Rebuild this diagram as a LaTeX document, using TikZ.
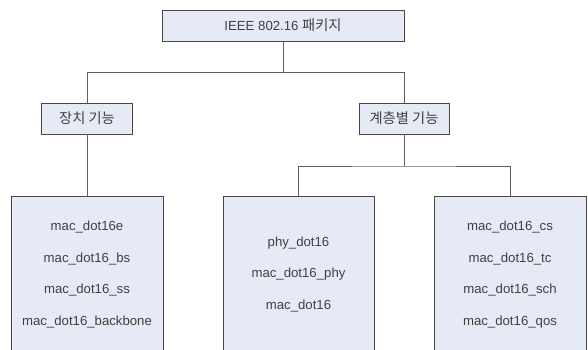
\documentclass[tikz,border=0pt]{standalone}
\usepackage{fontspec}
\setmainfont{Liberation Sans}
\newfontfamily\krfont[Scale=1.08]{Noto Sans CJK KR}
\usetikzlibrary{positioning}
\definecolor{boxfill}{RGB}{230,234,246}
\definecolor{boxline}{RGB}{70,70,70}
\definecolor{linkline}{RGB}{95,95,95}
\definecolor{textgray}{RGB}{64,64,64}

\tikzset{
	pkg/.style={draw=boxline,fill=boxfill,line width=0.9pt,text=textgray,
		font=\fontsize{13.2}{31.5}\selectfont,inner sep=0pt,align=center},
	link/.style={draw=linkline,line width=0.8pt},
}

\begin{document}
\begin{tikzpicture}[x=1pt,y=-1pt]
	\useasboundingbox (0,0) rectangle (588,349);
	\clip (0,0) rectangle (588,349);
	% package and the two groups
	\node[pkg,minimum width=242pt,minimum height=31pt] (pkgtop) at (283,25.5) {IEEE 802.16 {\krfont 패키지}};
	\node[pkg,minimum width=91pt,minimum height=31pt] (device) at (87,118.5) {\krfont 장치 기능};
	\node[pkg,minimum width=90pt,minimum height=31pt] (layer) at (404,118.5) {\krfont 계층별 기능};
	% module lists (bottom edge runs off the page)
	\node[pkg,minimum width=152pt,minimum height=156pt,anchor=north] (devlist) at (87,196)
		{mac\_dot16e\\mac\_dot16\_bs\\mac\_dot16\_ss\\mac\_dot16\_backbone};
	\node[pkg,minimum width=151pt,minimum height=156pt,anchor=north] (phylist) at (298.5,196)
		{phy\_dot16\\mac\_dot16\_phy\\mac\_dot16};
	\node[pkg,minimum width=152pt,minimum height=156pt,anchor=north] (maclist) at (510,196)
		{mac\_dot16\_cs\\mac\_dot16\_tc\\mac\_dot16\_sch\\mac\_dot16\_qos};
	% connectors
	\coordinate (topfork) at (283,72);
	\coordinate (layerfork) at (404,166);
	\draw[link] (pkgtop) -- (topfork) -| (device);
	\draw[link] (topfork) -| (layer);
	\draw[link] (device) -- (devlist);
	\draw[link] (layer) -- (layerfork);
	\draw[link] (phylist.north) |- (layerfork) -| (maclist.north);
\end{tikzpicture}
\end{document}
